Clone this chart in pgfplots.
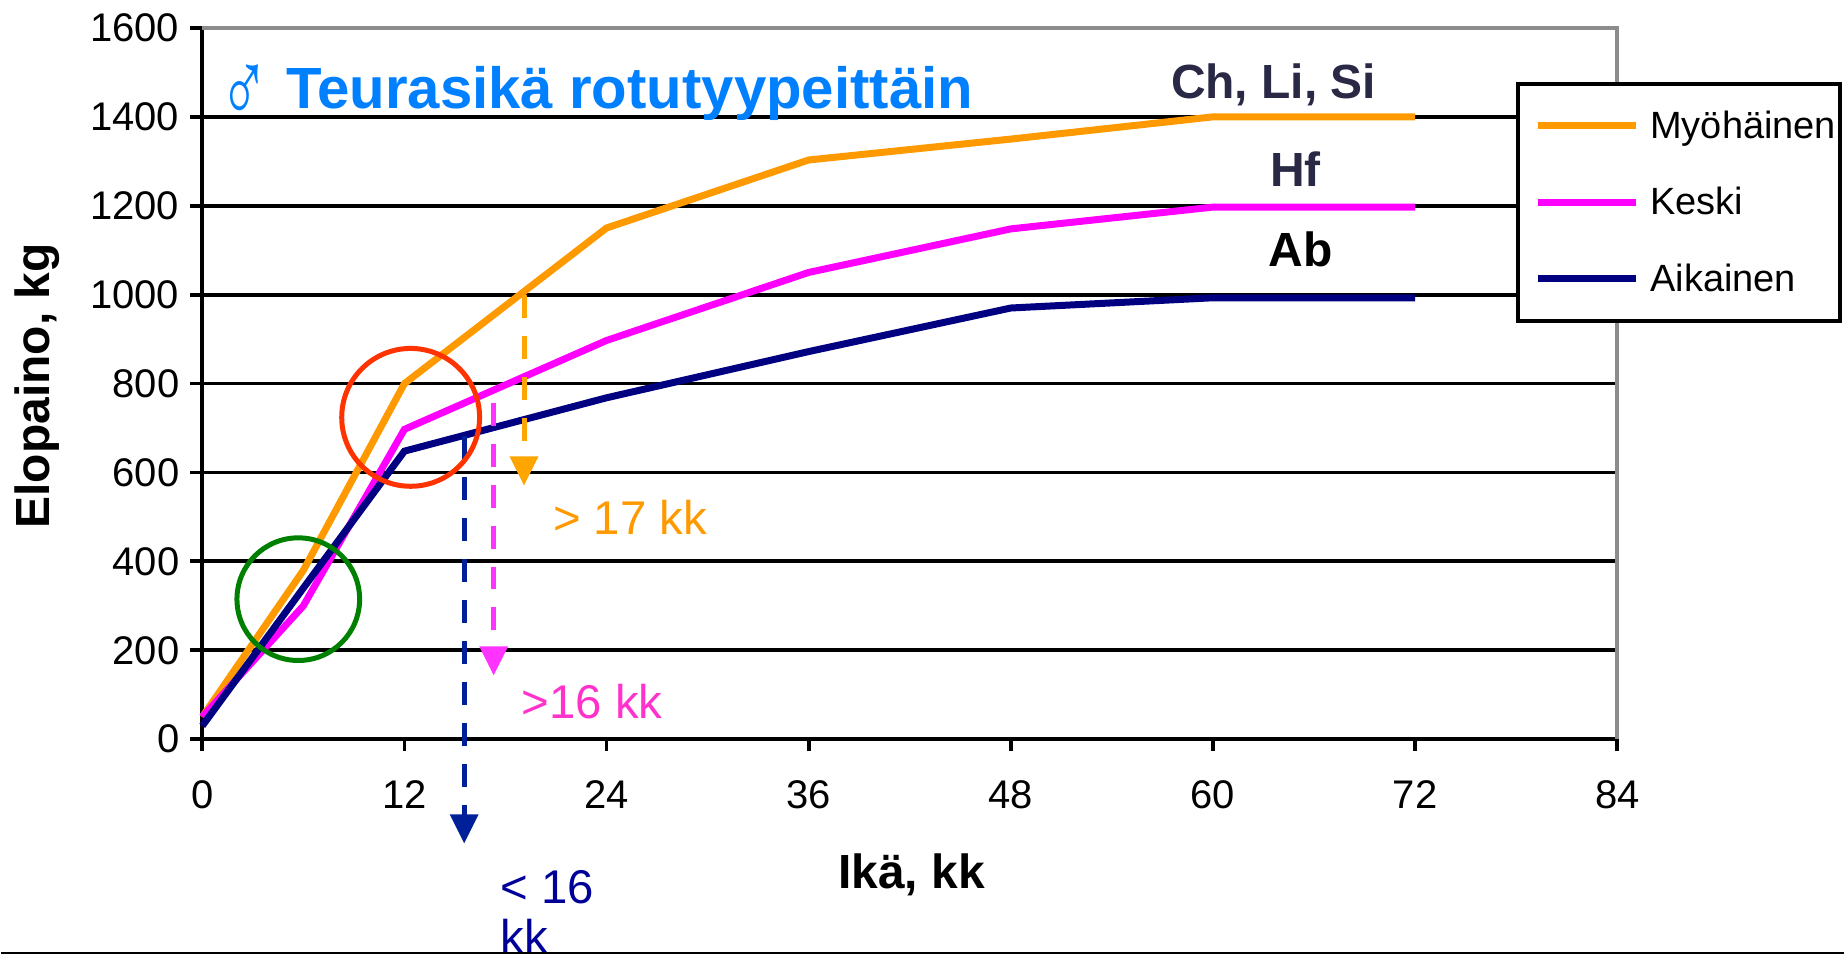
\documentclass[border=0pt]{standalone}
\usepackage{pgfplots}
\pgfplotsset{compat=1.18}
\usepackage{fontspec}
\setmainfont{Liberation Sans}
\definecolor{corange}{HTML}{FF9900}
\definecolor{cmag}{HTML}{FF00FF}
\definecolor{cnavy}{HTML}{000080}
\pgfdeclareplotmark{dtri}{%
  \pgfpathmoveto{\pgfqpoint{-7.25pt}{0pt}}%
  \pgfpathlineto{\pgfqpoint{7.25pt}{0pt}}%
  \pgfpathlineto{\pgfqpoint{0pt}{-14.5pt}}%
  \pgfpathclose\pgfusepathqfill}
\begin{document}
\begin{tikzpicture}
\path (0,0) rectangle (922.5pt,478pt);
\begin{axis}[
  at={(100.75pt,108pt)},anchor=south west,
  scale only axis,width=708.25pt,height=356pt,
  xmin=0,xmax=84,ymin=0,ymax=1600,
  clip=false,
  xtick={0,12,...,84},ytick={0,200,...,1600},
  axis line style={line width=1.9pt},
  separate axis lines,
  x axis line style={-,black},
  y axis line style={-,black},
  axis x line*=bottom,axis y line*=left,
  tick style={black,line width=1.9pt},
  tick align=outside,
  major tick length=6pt,
  ymajorgrids,
  grid style={black,line width=1.9pt},
  /pgf/number format/assume math mode=true,
  /pgf/number format/set thousands separator={},
  tick label style={font=\fontsize{20}{22}\selectfont},
  xticklabel style={yshift=-11pt},
  yticklabel style={xshift=-2pt},
  xlabel={\textbf{Ikä, kk}},
  ylabel={\textbf{Elopaino, kg}},
  xlabel style={font=\fontsize{24}{26}\selectfont,at={(axis cs:42.1,-305)},anchor=center},
  ylabel style={font=\fontsize{24}{26}\selectfont,at={(axis cs:-9.8,795)},anchor=center,rotate=0},
  legend style={at={(axis cs:78.0,1479)},anchor=north west,draw=black,line width=1.9pt,fill=white,
    font=\fontsize{19}{21}\selectfont,inner xsep=0pt,inner ysep=11.5pt,
    row sep=19pt},
  legend cell align=left,
  legend image code/.code={\path (0pt,0pt) (60.7pt,0pt);\draw[#1,line width=3.5pt] (8.2pt,0pt)--(57.2pt,0pt);},
]
\addplot[forget plot,gray!90,line width=1.9pt,no marks] coordinates {(0,1600)(84,1600)(84,0)};
\addplot[corange,line width=3.5pt,no marks] coordinates {(0,50)(6,380)(12,800)(24,1150)(36,1303)(48,1350)(60,1400)(72,1400)};
\addlegendentry{Myöhäinen}
\addplot[cmag,line width=3.5pt,no marks] coordinates {(0,50)(6,300)(12,697)(24,897)(36,1050)(48,1148)(60,1197)(72,1197)};
\addlegendentry{Keski}
\addplot[cnavy,line width=3.5pt,no marks] coordinates {(0,30)(6,340)(12,648)(24,768)(36,872)(48,970)(60,993)(72,993)};
\addlegendentry{Aikainen}
% dashed drops
\addplot[forget plot,color={rgb,255:red,255;green,165;blue,0},line width=2.5pt,dash pattern=on 11.5pt off 9pt,no marks] coordinates {(19.1,1000)(19.1,640)};
\addplot[forget plot,only marks,mark=dtri,color={rgb,255:red,255;green,165;blue,0}] coordinates {(19.1,636)};
\addplot[forget plot,color={rgb,255:red,255;green,51;blue,255},line width=2.5pt,dash pattern=on 11.5pt off 9pt,no marks] coordinates {(17.3,757)(17.3,210)};
\addplot[forget plot,only marks,mark=dtri,color={rgb,255:red,255;green,51;blue,255}] coordinates {(17.3,209)};
\addplot[forget plot,color={rgb,255:red,0;green,32;blue,153},line width=2.5pt,dash pattern=on 11.5pt off 9pt,no marks] coordinates {(15.55,681)(15.55,-170)};
\addplot[forget plot,only marks,mark=dtri,color={rgb,255:red,0;green,32;blue,153}] coordinates {(15.55,-169)};
% circles
\addplot[forget plot,only marks,mark=o,mark size=34.5pt,mark options={draw={rgb,255:red,255;green,51;blue,0},line width=2.5pt,fill=none}] coordinates {(12.37,724)};
\addplot[forget plot,only marks,mark=o,mark size=30.7pt,mark options={draw={rgb,255:red,0;green,128;blue,0},line width=2.5pt,fill=none}] coordinates {(5.7,315)};
% annotations
\node[anchor=west,inner sep=0pt,text={rgb,255:red,0;green,128;blue,255},font=\fontsize{29.1}{31}\selectfont\bfseries] at (axis cs:4.95,1452) {Teurasikä rotutyypeittäin};
\node[anchor=center,inner sep=0pt,xscale=1.15,yscale=1.8,text={rgb,255:red,0;green,128;blue,255},font=\fontsize{29}{31}\selectfont] at (axis cs:2.5,1452) {♂};
\node[anchor=center,inner sep=0pt,text={rgb,255:red,41;green,40;blue,69},font=\fontsize{24}{26}\selectfont\bfseries] at (axis cs:63.6,1473) {Ch, Li, Si};
\node[anchor=center,inner sep=0pt,text={rgb,255:red,41;green,40;blue,69},font=\fontsize{24}{26}\selectfont\bfseries] at (axis cs:64.9,1283) {Hf};
\node[anchor=center,inner sep=0pt,text=black,font=\fontsize{24}{26}\selectfont\bfseries] at (axis cs:65.2,1103) {Ab};
\node[anchor=west,inner sep=0pt,text=corange,font=\fontsize{23.7}{26}\selectfont] at (axis cs:20.8,500) {> 17 kk};
\node[anchor=west,inner sep=0pt,text={rgb,255:red,255;green,51;blue,204},font=\fontsize{23.7}{26}\selectfont] at (axis cs:18.95,85) {>16 kk};
\node[anchor=base west,inner sep=0pt,text={rgb,255:red,0;green,0;blue,153},font=\fontsize{23.7}{26}\selectfont] at (axis cs:17.7,-370) {< 16};
\node[anchor=base west,inner sep=0pt,text={rgb,255:red,0;green,0;blue,153},font=\fontsize{23.7}{26}\selectfont] at (axis cs:17.7,-483) {kk};
\end{axis}
\draw[black,line width=1pt] (0,0.75pt)--(922.5pt,0.75pt);
\end{tikzpicture}
\end{document}
